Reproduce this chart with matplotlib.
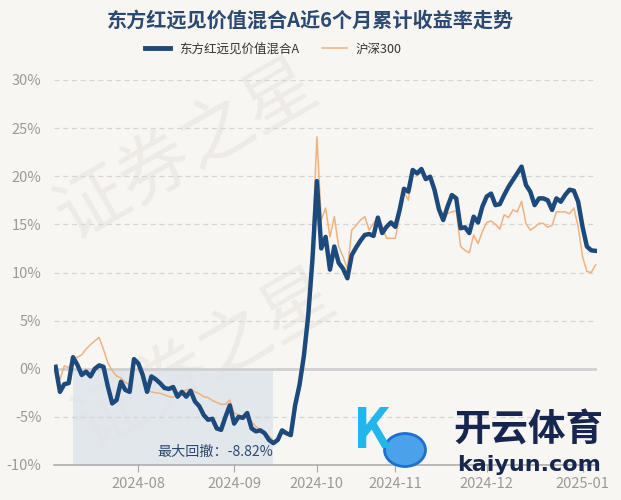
import numpy as np
import pandas as pd
import matplotlib
matplotlib.use('Agg')
import matplotlib.pyplot as plt
from matplotlib.lines import Line2D
from matplotlib.patches import Rectangle, Circle
from matplotlib.ticker import FuncFormatter

plt.rcParams['font.family'] = ['Noto Sans CJK SC', 'DejaVu Sans']

title = '东方红远见价值混合A近6个月累计收益率走势'
fund_name = '东方红远见价值混合A'
index_name = '沪深300'

# trading days, 2024-07-05 .. 2025-01-07
holidays = ['2024-09-16', '2024-09-17', '2024-10-01', '2024-10-02', '2024-10-03',
            '2024-10-04', '2024-10-07', '2025-01-01']
dates = pd.bdate_range('2024-07-05', '2025-01-07', freq='C', holidays=holidays)

# cumulative return, %
fund = [
    0.2, -2.4, -1.6, -1.5, 1.2, 0.4, -0.65, -0.3, -0.8, 0.0,
    0.35, 0.2, -1.85, -3.6, -3.25, -1.35, -2.2, -2.4, 1.0, 0.55,
    -0.65, -2.4, -0.8, -1.1, -1.5, -2.0, -2.1, -1.9, -2.9, -2.4,
    -2.9, -2.3, -3.4, -3.9, -4.8, -5.3, -5.2, -6.2, -6.35, -5.0,
    -3.8, -5.7, -5.0, -5.1, -4.6, -6.2, -6.5, -6.4, -6.7, -7.4,
    -7.73, -7.4, -6.4, -6.7, -6.9, -3.8, -1.7, 1.3, 5.5, 11.5,
    19.5, 12.5, 13.7, 10.3, 12.7, 11.0, 10.4, 9.4, 11.8, 12.6,
    13.3, 13.9, 14.0, 13.8, 15.7, 14.1, 14.75, 15.2, 14.75, 16.5,
    18.7, 18.4, 20.65, 20.3, 20.75, 19.7, 19.95, 18.6, 16.6, 15.45,
    16.85, 18.05, 17.7, 14.6, 14.7, 14.1, 15.8, 15.2, 16.85, 17.9,
    18.2, 17.0, 17.1, 18.05, 18.9, 19.6, 20.3, 21.0, 19.1, 18.4,
    17.0, 17.7, 17.7, 17.5, 16.5, 17.7, 17.35, 18.05, 18.6, 18.5,
    17.35, 14.75, 12.7, 12.3, 12.25,
]
hs300 = [
    0.0, -1.1, 0.3, 0.1, 1.0, 1.2, 1.45, 2.05, 2.5, 2.9,
    3.25, 2.0, 0.6, -0.2, -0.75, -0.95, -1.4, -1.7, 0.8, 0.5,
    -0.9, -2.2, -2.4, -2.5, -2.55, -2.7, -2.9, -2.95, -2.7, -2.4,
    -2.2, -2.1, -2.4, -2.6, -2.9, -3.0, -3.3, -3.5, -3.7, -3.7,
    -3.25, -4.6, -4.8, -5.0, -5.1, -5.5, -6.0, -6.3, -6.6, -7.0,
    -7.5, -7.3, -6.8, -6.75, -6.9, -4.2, -2.1, 0.8, 4.8, 13.5,
    24.1, 15.45, 16.7, 13.7, 15.8, 12.7, 11.65, 10.4, 14.4, 14.9,
    15.45, 15.8, 14.4, 15.1, 15.8, 14.75, 13.55, 13.55, 13.55, 15.8,
    18.4, 17.5, 20.8, 20.1, 20.4, 19.7, 19.8, 18.2, 16.6, 15.3,
    16.15, 16.3, 16.4, 12.7, 12.3, 12.05, 13.9, 13.0, 14.25, 15.2,
    15.35, 15.0, 14.5, 16.0, 15.7, 16.5, 16.3, 17.4, 15.1, 14.4,
    14.7, 15.1, 15.1, 14.7, 14.9, 16.3, 16.3, 16.3, 16.1, 16.7,
    14.75, 11.65, 10.1, 10.0, 10.8,
]
y_ticks = [-10, -5, 0, 5, 10, 15, 20, 25, 30]

bg = '#f8f6f2'
navy = '#1d4a7c'
orange = '#f0b27f'

x = np.arange(len(dates))
f = np.array(fund)

# max drawdown
nav = 1 + f / 100
dd = nav / np.maximum.accumulate(nav) - 1
trough = int(np.argmin(dd))
peak = int(np.argmax(nav[:trough + 1]))

fig = plt.figure(figsize=(6.21, 5.0), dpi=100)
fig.patch.set_facecolor(bg)

# watermark (behind the axes)
for tx, ty, s in [(0.30, 0.70, '证券之星'), (0.33, 0.28, '证券之星')]:
    fig.text(tx, ty, s, fontsize=52, color='#eeebe6', rotation=30, ha='center', va='center', zorder=1)

ax = fig.add_axes([54 / 621, 35 / 500, 543 / 621, 385 / 500])
ax.set_zorder(2)
ax.set_facecolor('none')
ax.set_xlim(-0.37, len(x) - 1 + 0.32)
ax.set_ylim(-10, 30)

ax.add_patch(Rectangle((peak, -10), trough - peak, 10, facecolor='#dfe5eb', edgecolor='none',
                       alpha=0.85, zorder=1))

for v in y_ticks:
    if v not in (0, -10):
        ax.axhline(v, color='#d6d6d6', lw=0.9, ls=(0, (4, 3)), zorder=1)
ax.axhline(0, color='#d0d0d0', lw=2, zorder=1)

ax.plot(x, hs300, color=orange, lw=1.1, zorder=3)
ax.plot(x, fund, color=navy, lw=3.2, zorder=4, solid_joinstyle='round')

ax.text(trough, -8.65, '最大回撤：%.2f%%' % (dd[trough] * 100), ha='right', va='center',
        fontsize=10.2, color='#2b4a72', zorder=5)

for s in ['top', 'right', 'left']:
    ax.spines[s].set_visible(False)
ax.spines['bottom'].set_color('#a8a8a8')
ax.spines['bottom'].set_linewidth(1.1)

ax.set_yticks(y_ticks)
ax.yaxis.set_major_formatter(FuncFormatter(lambda v, p: '%d%%' % v))
ax.tick_params(axis='y', length=0, pad=9, labelsize=10.5, labelcolor='#9a9a9a')

month_starts = [i for i in range(1, len(dates)) if dates[i].month != dates[i - 1].month]
ax.set_xticks(month_starts)
ax.set_xticklabels([dates[i].strftime('%Y-%m') for i in month_starts])
ax.tick_params(axis='x', length=5, color='#a8a8a8', pad=4, labelsize=10.5, labelcolor='#9a9a9a')

fig.text(0.5, 1 - 20 / 500, title, ha='center', va='center', fontsize=14.5, weight='bold', color='#2b4a72')

handles = [Line2D([], [], color=navy, lw=3.5), Line2D([], [], color=orange, lw=1.1)]
fig.legend(handles, [fund_name, index_name], loc='center', bbox_to_anchor=(0.44, 1 - 49 / 500), ncol=2,
           frameon=False, fontsize=9, handlelength=2.0, columnspacing=1.8, handletextpad=0.7,
           labelcolor='#333333')

# site logo overlay
fig.patches.append(Circle((405 / 621, 1 - 450 / 500), 0.033, transform=fig.transFigure,
                          facecolor='#4aa3ea', edgecolor='#1e6fd0', lw=2, zorder=6))
fig.text(372 / 621, 1 - 432 / 500, 'K', fontsize=40, style='italic', weight='bold', color='#23b6ec',
         ha='center', va='center', zorder=6)
fig.text(528 / 621, 1 - 430 / 500, '开云体育', fontsize=27, weight='bold', color='#17264f',
         ha='center', va='center', zorder=6)
fig.text(529 / 621, 1 - 465 / 500, 'kaiyun.com', fontsize=16, weight='bold', color='#17264f',
         ha='center', va='center', zorder=6, family='DejaVu Sans')

fig.savefig('out.png', dpi=100, facecolor=bg)
